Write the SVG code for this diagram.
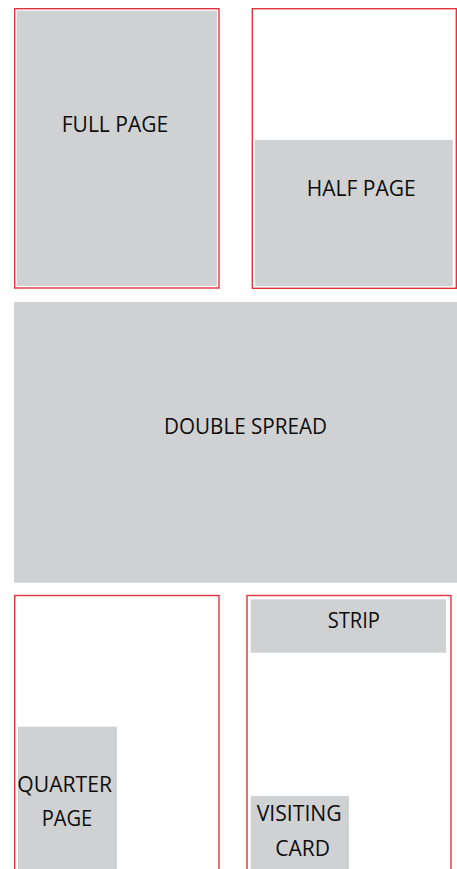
<svg xmlns="http://www.w3.org/2000/svg" width="457" height="869" viewBox="0 0 457 869">
<style>
.frame{fill:#ffffff;stroke:#e1343d;stroke-width:1.4}
.ad{fill:#d0d1d3}
.lbl{font-family:"Open Sans","Liberation Sans",sans-serif;font-size:21.5px;fill:#0d0d0d}
</style>
<rect width="457" height="869" fill="#ffffff"/>
<g id="full-page">
<rect class="frame" x="14.7" y="8.7" width="204.3" height="279.3"/>
<rect class="ad" x="16.7" y="10.7" width="200.3" height="275.3"/>
<text class="lbl" x="61.7" y="131.7" textLength="106.6" lengthAdjust="spacingAndGlyphs">FULL PAGE</text>
</g>
<g id="half-page">
<rect class="frame" x="252.3" y="8.7" width="204" height="279.6"/>
<rect class="ad" x="255" y="140" width="197.7" height="146"/>
<text class="lbl" x="306.7" y="196" textLength="109" lengthAdjust="spacingAndGlyphs">HALF PAGE</text>
</g>
<g id="double-spread">
<rect class="ad" x="14" y="302" width="443" height="280.7"/>
<text class="lbl" x="164" y="434" textLength="163" lengthAdjust="spacingAndGlyphs">DOUBLE SPREAD</text>
</g>
<g id="quarter-page">
<rect class="frame" x="14.7" y="595.5" width="204.3" height="290"/>
<rect class="ad" x="17.7" y="726.7" width="99.3" height="150"/>
<text class="lbl" x="17.3" y="791.7" textLength="94.7" lengthAdjust="spacingAndGlyphs">QUARTER</text>
<text class="lbl" x="41.7" y="825.7" textLength="50.6" lengthAdjust="spacingAndGlyphs">PAGE</text>
</g>
<g id="strip-visiting">
<rect class="frame" x="247" y="595.5" width="204" height="290"/>
</g>
<g id="strip">
<rect class="ad" x="250.7" y="599.3" width="195.3" height="53.4"/>
<text class="lbl" x="327.7" y="627.7" textLength="52.3" lengthAdjust="spacingAndGlyphs">STRIP</text>
</g>
<g id="visiting-card">
<rect class="ad" x="250.7" y="796" width="98.3" height="80"/>
<text class="lbl" x="256.7" y="820.7" textLength="85" lengthAdjust="spacingAndGlyphs">VISITING</text>
<text class="lbl" x="275.3" y="855.7" textLength="54.7" lengthAdjust="spacingAndGlyphs">CARD</text>
</g>
<g id="connectors"></g>
</svg>
